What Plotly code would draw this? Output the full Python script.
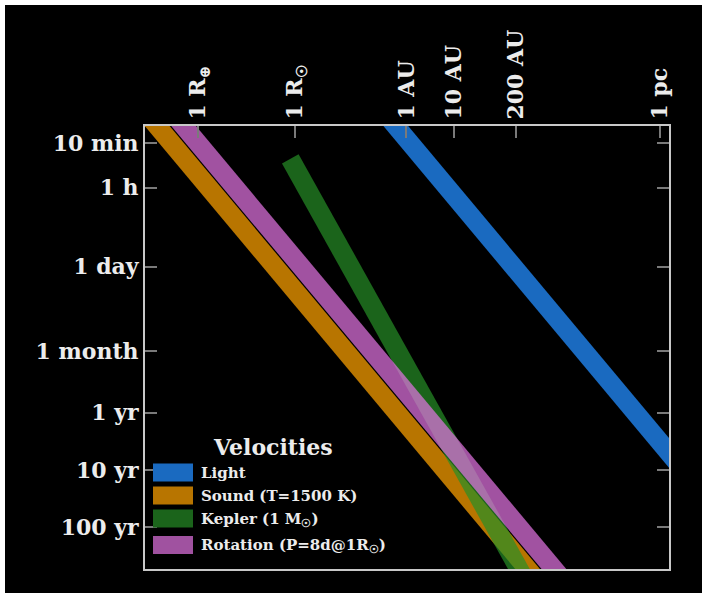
import numpy as np
import plotly.graph_objects as go

# ---------------- data ----------------
series_names = ["Light", "Sound (T=1500 K)", "Kepler (1 M<sub>☉</sub>)",
                "Rotation (P=8d@1R<sub>☉</sub>)"]
series_colors = ["rgb(26,106,192)", "rgb(184,117,0)", "rgba(39,143,39,0.7)",
                 "rgba(229,117,229,0.7)"]
legend_colors = ["rgb(26,106,192)", "rgb(184,117,0)", "rgb(27,100,27)", "rgb(160,82,160)"]
# constant velocities (m/s) for the straight bands
light_velocity = 2.998e8
sound_velocity = 3.0e3
rotation_velocity = 1.07e4
# Kepler band: v = sqrt(GM/r), starts near the solar radius
kepler_gm = 1.327e20
kepler_start = 5.5e8

band_distances = [1e5, 1e18]          # m, extent of straight bands
kepler_distances = [kepler_start, 1e17]

x_tickvals = [6.371e6, 6.957e8, 1.496e11, 1.496e12, 2.992e13, 3.086e16]
x_ticktext = ["1 R<sub>⊕</sub>", "1 R<sub>☉</sub>", "1 AU", "10 AU", "200 AU", "1 pc"]
y_tickvals = [600, 3600, 86400, 2.592e6, 3.156e7, 3.156e8, 3.156e9]
y_ticktext = ["10 min", "1 h", "1 day", "1 month", "1 yr", "10 yr", "100 yr"]

# ---------------- figure ----------------
W, H = 702, 593
L, R, T, B = 145, 33, 126, 24
PW, PH = W - L - R, H - T - B

def px2x(px):
    return (px - L) / PW

def py2y(py):
    return (H - B - py) / PH

FONT = "DejaVu Serif"
fig = go.Figure()

def band(dist, vel):
    d = np.array(dist, dtype=float)
    return d, d / vel

curves = [
    band(band_distances, light_velocity),
    band(band_distances, sound_velocity),
    (np.array(kepler_distances), np.array(kepler_distances) ** 1.5 / np.sqrt(kepler_gm)),
    band(band_distances, rotation_velocity),
]
for name, col, (xd, yd) in zip(series_names, series_colors, curves):
    fig.add_trace(go.Scatter(x=xd, y=yd, mode="lines", name=name,
                             line=dict(color=col, width=19),
                             showlegend=False, hoverinfo="skip"))

axis_common = dict(type="log", showgrid=False, zeroline=False, showline=True,
                   linecolor="#c8c8c8", linewidth=2, ticks="inside", ticklen=12,
                   tickwidth=1.5, tickcolor="#7a7a7a",
                   tickfont=dict(family=FONT, size=22, color="#ececec", weight="bold"))

fig.update_xaxes(**axis_common, side="top", mirror=True, tickangle=-90,
                 range=[5.695, 16.678], tickvals=x_tickvals, ticktext=x_ticktext)
fig.update_yaxes(**axis_common, mirror="ticks", range=[10.236, 2.475],
                 tickvals=y_tickvals, ticktext=y_ticktext)

# thin white border at top and left of the black canvas
shapes = [
    dict(type="rect", xref="paper", yref="paper", layer="below",
         x0=px2x(0), x1=px2x(W), y0=py2y(5), y1=py2y(0),
         fillcolor="white", line=dict(width=0)),
    dict(type="rect", xref="paper", yref="paper", layer="below",
         x0=px2x(0), x1=px2x(5), y0=py2y(H), y1=py2y(0),
         fillcolor="white", line=dict(width=0)),
]

# manual legend
swatch_rows = [472.5, 495.5, 518.5, 545.0]
text_rows = [473, 496, 519, 545.5]
for yc, col in zip(swatch_rows, legend_colors):
    shapes.append(dict(type="rect", xref="paper", yref="paper", layer="above",
                       x0=px2x(153), x1=px2x(193), y0=py2y(yc + 9), y1=py2y(yc - 9),
                       fillcolor=col, line=dict(width=0)))
annotations = [dict(text="Velocities", xref="paper", yref="paper", x=px2x(273),
                    y=py2y(447), xanchor="center", yanchor="middle", showarrow=False,
                    font=dict(family=FONT, size=22, color="#ececec", weight="bold"))]
for yc, name in zip(text_rows, series_names):
    annotations.append(dict(text=name, xref="paper", yref="paper", x=px2x(199),
                            y=py2y(yc), xanchor="left", yanchor="middle",
                            showarrow=False,
                            font=dict(family=FONT, size=15, color="#ececec",
                                      weight="bold")))

fig.update_layout(width=W, height=H, margin=dict(l=L, r=R, t=T, b=B),
                  paper_bgcolor="black", plot_bgcolor="black",
                  shapes=shapes, annotations=annotations, showlegend=False)

fig.write_html("out.html", config={"displayModeBar": False},
               post_script="document.body.style.margin='0';"
                           "document.body.style.overflow='hidden';"
                           "document.body.style.background='black';")
